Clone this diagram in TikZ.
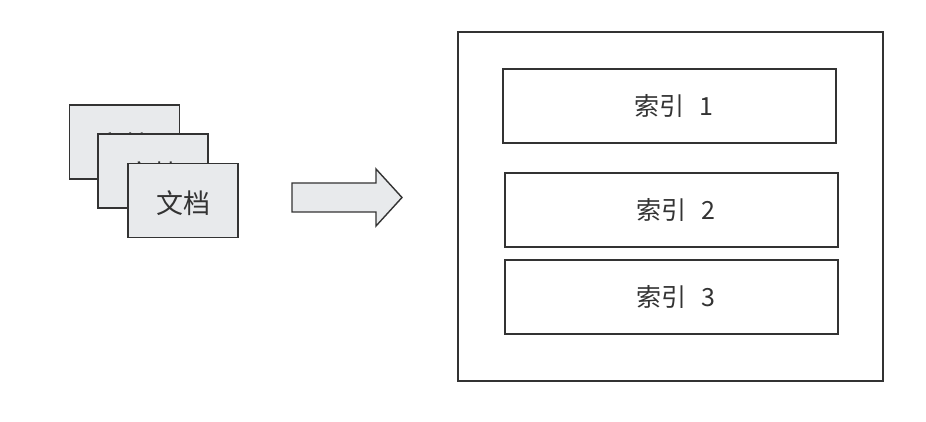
\documentclass[tikz,border=0pt]{standalone}
\usepackage{fontspec}
\setmainfont{Noto Sans CJK SC}
\definecolor{ln}{HTML}{333333}
\definecolor{fl}{HTML}{E8EAEC}
\newcommand{\doctext}{\raisebox{-3pt}[\height][\depth]{文档}}
\newcommand{\idxtext}[1]{\hspace{8pt}索引\hspace{15pt}#1}
\begin{document}
\begin{tikzpicture}[x=1pt,y=-1pt,
  docbox/.style={draw=ln,line width=1.4pt,fill=fl,minimum width=110pt,minimum height=74pt,inner sep=0pt,font=\fontsize{27}{30}\selectfont,text=ln},
  idxbox/.style={draw=ln,line width=1.4pt,fill=white,minimum width=333pt,minimum height=74pt,inner sep=0pt,font=\fontsize{25}{30}\selectfont,text=ln},
  outer/.style={draw=ln,line width=1.4pt,fill=white}]
\useasboundingbox (0,0) rectangle (926,422);
\node[docbox] (d1) at (124.5,142) {\doctext};
\node[docbox] (d2) at (153,171) {\doctext};
\node[docbox] (d3) at (183,200.5) {\doctext};
\draw[draw=ln,line width=1.4pt,fill=fl] (292,183) -- (376,183) -- (376,169) -- (402,197.5) -- (376,226) -- (376,212) -- (292,212) -- cycle;
\node[outer,minimum width=425pt,minimum height=349pt,inner sep=0pt] (big) at (670.5,206.5) {};
\node[idxbox] (i1) at (669.5,106) {\idxtext{1}};
\node[idxbox] (i2) at (671.5,210) {\idxtext{2}};
\node[idxbox] (i3) at (671.5,297) {\idxtext{3}};
\end{tikzpicture}
\end{document}
